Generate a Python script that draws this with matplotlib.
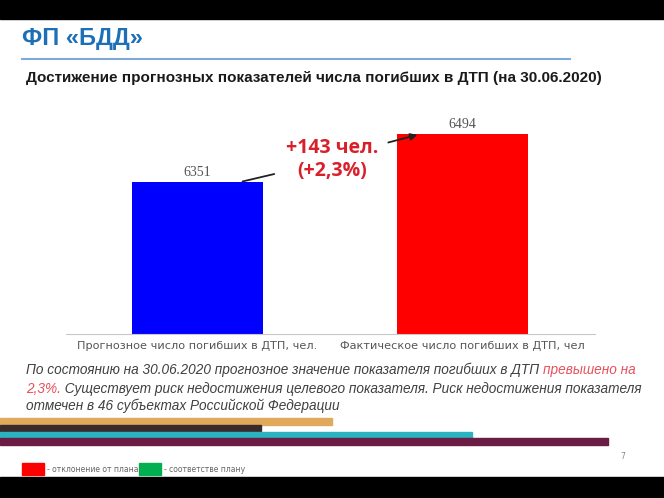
import matplotlib
matplotlib.use("Agg")
import matplotlib.pyplot as plt
from matplotlib.patches import Rectangle

W, H = 664, 498

categories = ["Прогнозное число погибших в ДТП, чел.",
              "Фактическое число погибших в ДТП, чел"]
values = [6351, 6494]
bar_colors = ["#0000ff", "#ff0000"]
diff_text = "+143 чел.\n(+2,3%)"

title = "ФП «БДД»"
subtitle = "Достижение прогнозных показателей числа погибших в ДТП (на 30.06.2020)"
body_1a = "По состоянию на 30.06.2020 прогнозное значение показателя погибших в ДТП "
body_1b = "превышено на"
body_2a = "2,3%."
body_2b = " Существует риск недостижения целевого показателя. Риск недостижения показателя"
body_3 = "отмечен в 46 субъектах Российской Федерации"

# decorative stripes: (right end px, colour)
stripe_ends = [332, 261, 472, 608]
stripe_colors = ["#e0a95c", "#3b2a2a", "#2bb3bf", "#6b1c45"]

legend_labels = ["- отклонение от плана;", "- соответстве плану"]
legend_colors = ["#ff0000", "#00b050"]


def fx(px):
    return px / W


def fy(py):
    return 1 - py / H


fig = plt.figure(figsize=(W / 100, H / 100), dpi=100)
fig.patch.set_facecolor("white")

# black bands top and bottom
bg = fig.add_axes([0, 0, 1, 1])
bg.set_xlim(0, W)
bg.set_ylim(H, 0)
bg.axis("off")
bg.add_patch(Rectangle((0, 0), W, 19, color="black"))
bg.add_patch(Rectangle((0, 477), W, 21, color="black"))

# header
bg.text(22, 38, title, fontsize=17, fontweight="bold", color="#1d6fb8",
        family="Liberation Sans", va="center", ha="left")
bg.plot([22, 570], [59, 59], color="#7fa9d6", lw=1.5)
bg.text(26, 78, subtitle, fontsize=11, fontweight="bold", color="#1a1a1a",
        family="Liberation Sans", va="center", ha="left")

# bar chart
ax = fig.add_axes([fx(66), fy(334), fx(595) - fx(66), fy(110) - fy(334)])
x = [0, 1]
bars = ax.bar(x, values, width=0.494, color=bar_colors)
ax.set_ylim(5898, 6566)
ax.set_xlim(-0.496, 1.5)
for s in ["top", "right", "left"]:
    ax.spines[s].set_visible(False)
ax.spines["bottom"].set_color("#c8c8c8")
ax.set_yticks([])
ax.set_xticks(x)
ax.set_xticklabels(categories, fontsize=8.1, color="#555555", family="DejaVu Sans")
ax.tick_params(axis="x", length=0, pad=5)
for xi, v in zip(x, values):
    ax.text(xi, v + 8, str(v), ha="center", va="bottom", fontsize=10,
            color="#555555", family="Liberation Serif")

ax.text(0.51, 6418, diff_text, ha="center", va="center", fontsize=14,
        fontweight="bold", color="#d9202a", family="Open Sans", linespacing=1.2)
ax.annotate("", xy=(0.16, values[0]), xytext=(0.30, 6377),
            arrowprops=dict(arrowstyle="-", color="#222222", lw=1.3))
ax.annotate("", xy=(0.84, values[1]), xytext=(0.71, 6467),
            arrowprops=dict(arrowstyle="-|>", color="#222222", lw=1.3,
                            mutation_scale=10))

# body text, sized so the first line spans the same width as the reference
body_kw = dict(style="italic", family="Liberation Sans", va="center", ha="left")
fig.canvas.draw()
r = fig.canvas.get_renderer()
probe = bg.text(0, 0, body_1a + body_1b, fontsize=10, **body_kw)
fs = 10 * 607 / probe.get_window_extent(r).width
probe.remove()
body_kw["fontsize"] = fs
t1 = bg.text(26, 370, body_1a, color="#404040", **body_kw)
w1 = t1.get_window_extent(r).width
bg.text(26 + w1, 370, body_1b, color="#e8505b", **body_kw)
t2 = bg.text(26, 389, body_2a, color="#e8505b", **body_kw)
w2 = t2.get_window_extent(r).width
bg.text(26 + w2, 389, body_2b, color="#404040", **body_kw)
bg.text(26, 406, body_3, color="#404040", **body_kw)

# stripes
tops = [418, 425, 432, 438]
heights = [7, 6, 6, 7]
for end, col, t, h in zip(stripe_ends, stripe_colors, tops, heights):
    bg.add_patch(Rectangle((0, t), end, h, color=col))

# legend squares
sq_x = [22, 139]
for sx, col, lab in zip(sq_x, legend_colors, legend_labels):
    bg.add_patch(Rectangle((sx, 463), 22, 12, color=col))
    bg.text(sx + 25, 469.5, lab, fontsize=5.5, color="#666666",
            family="DejaVu Sans", va="center", ha="left")

bg.text(623, 456, "7", fontsize=5.5, color="#888888", ha="center", va="center")

fig.savefig("out.png", dpi=100)
